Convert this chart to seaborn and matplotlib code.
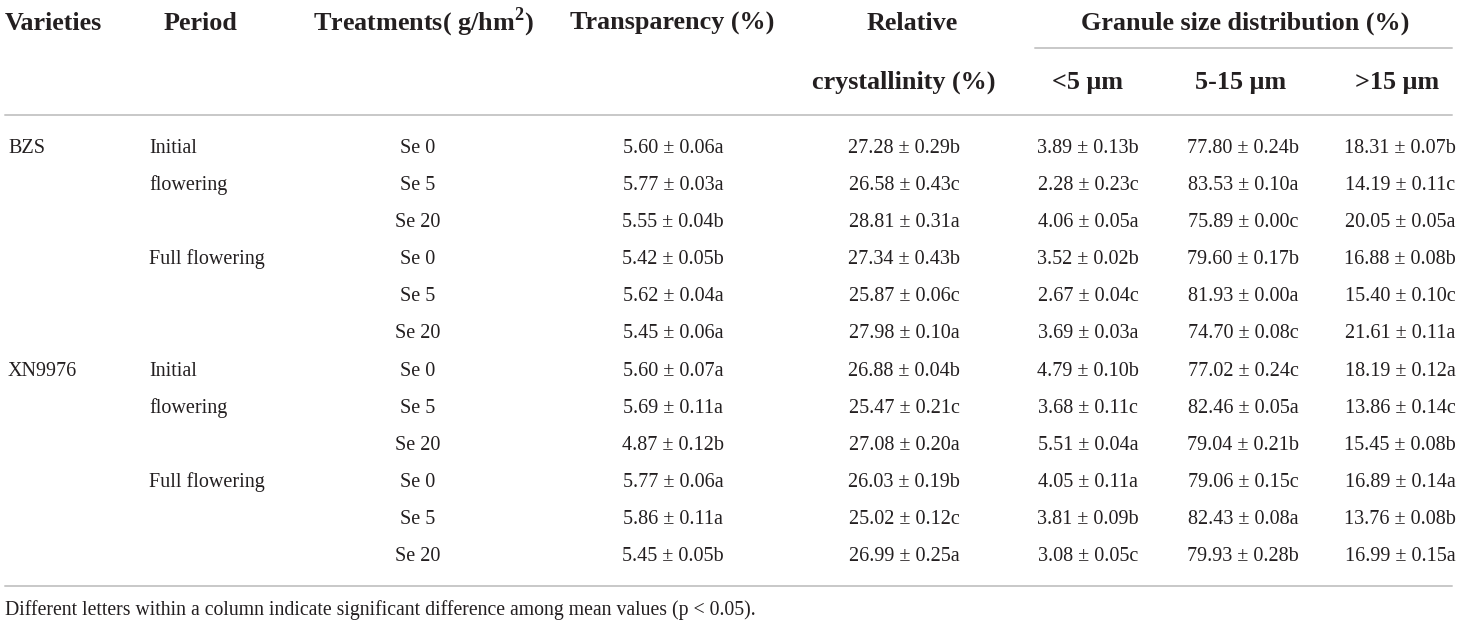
import matplotlib
matplotlib.use("Agg")
import matplotlib.pyplot as plt
import seaborn as sns

# table content
varieties = ["BZS", "", "", "", "", "", "XN9976", "", "", "", "", ""]
periods = ["Initial", "flowering", "", "Full flowering", "", "",
           "Initial", "flowering", "", "Full flowering", "", ""]
treatments = ["Se 0", "Se 5", "Se 20"] * 4

transparency = ["5.60 ± 0.06a", "5.77 ± 0.03a", "5.55 ± 0.04b", "5.42 ± 0.05b", "5.62 ± 0.04a", "5.45 ± 0.06a",
                "5.60 ± 0.07a", "5.69 ± 0.11a", "4.87 ± 0.12b", "5.77 ± 0.06a", "5.86 ± 0.11a", "5.45 ± 0.05b"]
crystallinity = ["27.28 ± 0.29b", "26.58 ± 0.43c", "28.81 ± 0.31a", "27.34 ± 0.43b", "25.87 ± 0.06c", "27.98 ± 0.10a",
                 "26.88 ± 0.04b", "25.47 ± 0.21c", "27.08 ± 0.20a", "26.03 ± 0.19b", "25.02 ± 0.12c", "26.99 ± 0.25a"]
small = ["3.89 ± 0.13b", "2.28 ± 0.23c", "4.06 ± 0.05a", "3.52 ± 0.02b", "2.67 ± 0.04c", "3.69 ± 0.03a",
         "4.79 ± 0.10b", "3.68 ± 0.11c", "5.51 ± 0.04a", "4.05 ± 0.11a", "3.81 ± 0.09b", "3.08 ± 0.05c"]
medium = ["77.80 ± 0.24b", "83.53 ± 0.10a", "75.89 ± 0.00c", "79.60 ± 0.17b", "81.93 ± 0.00a", "74.70 ± 0.08c",
          "77.02 ± 0.24c", "82.46 ± 0.05a", "79.04 ± 0.21b", "79.06 ± 0.15c", "82.43 ± 0.08a", "79.93 ± 0.28b"]
large = ["18.31 ± 0.07b", "14.19 ± 0.11c", "20.05 ± 0.05a", "16.88 ± 0.08b", "15.40 ± 0.10c", "21.61 ± 0.11a",
         "18.19 ± 0.12a", "13.86 ± 0.14c", "15.45 ± 0.08b", "16.89 ± 0.14a", "13.76 ± 0.08b", "16.99 ± 0.15a"]

footnote = "Different letters within a column indicate significant difference among mean values (p < 0.05)."

sns.set_theme(style="white")
plt.rcParams["font.family"] = ["Liberation Serif", "DejaVu Serif"]
plt.rcParams["mathtext.fontset"] = "custom"
plt.rcParams["mathtext.rm"] = "Liberation Serif:bold"
plt.rcParams["mathtext.bf"] = "Liberation Serif:bold"

W, H = 1460, 627
fig = plt.figure(figsize=(W / 100, H / 100), dpi=100)
ax = fig.add_axes([0, 0, 1, 1])
ax.set_xlim(0, W)
ax.set_ylim(H, 0)
ax.axis("off")

txt = "#231f20"
line_col = "#c8c8c8"
hsize = 18.8
dsize = 14.5


def head(x, y, s, ha="center"):
    ax.text(x, y, s, fontsize=hsize, weight="bold", color=txt, ha=ha, va="baseline")


# header
head(5, 30, "Varieties", ha="left")
head(200, 30, "Period")
head(423, 30, r"Treatments( g/hm$^{\mathbf{2}}$)")
head(672, 30, "Transparency (%)")
head(912, 30, "Relative")
head(904, 89, "crystallinity (%)")
head(1245, 30, "Granule size distribution (%)")
head(1088, 89, "<5 μm")
head(1241, 89, "5-15 μm")
head(1397, 89, ">15 μm")

ax.plot([1035, 1452], [48, 48], color=line_col, lw=1.4)
ax.plot([5, 1452], [115, 115], color=line_col, lw=1.4)
ax.plot([5, 1452], [586, 586], color=line_col, lw=1.4)

# body
y0, dy = 153, 37.1
for i in range(len(treatments)):
    y = y0 + i * dy
    kw = dict(fontsize=dsize, color=txt, va="baseline")
    ax.text(8, y, varieties[i], ha="left", **kw)
    ax.text(149, y, periods[i], ha="left", **kw)
    ax.text(418, y, treatments[i], ha="center", **kw)
    ax.text(673, y, transparency[i], ha="center", **kw)
    ax.text(904, y, crystallinity[i], ha="center", **kw)
    ax.text(1088, y, small[i], ha="center", **kw)
    ax.text(1243, y, medium[i], ha="center", **kw)
    ax.text(1400, y, large[i], ha="center", **kw)

ax.text(5, 615, footnote, fontsize=14.2, color=txt, ha="left", va="baseline")

fig.savefig("out.png", dpi=100)
